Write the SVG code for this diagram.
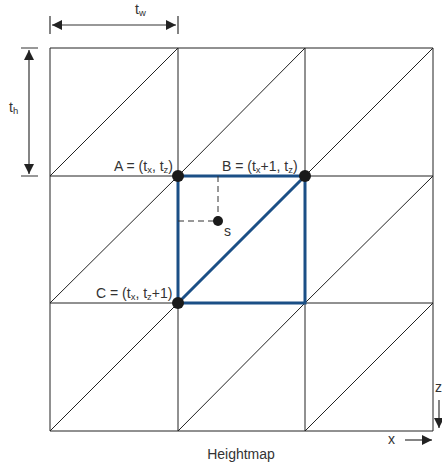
<svg xmlns="http://www.w3.org/2000/svg" width="442" height="466" viewBox="0 0 442 466">
<defs>
<marker id="ah" viewBox="0 0 10 10" refX="10" refY="5" markerWidth="10" markerHeight="10" markerUnits="userSpaceOnUse" orient="auto-start-reverse"><path d="M0,0 L10,5 L0,10 z" fill="#222"/></marker>
<style>
.g{stroke:#222;stroke-width:1;fill:none}
.b{stroke:#1b4f86;stroke-width:3;fill:none}
.t{font-family:"Liberation Sans",Arial,sans-serif;font-size:14px;fill:#333}
.s{font-size:9.5px}
.d{stroke:#333;stroke-width:1;stroke-dasharray:6,4;fill:none}
.dim{stroke:#333;stroke-width:1.2;fill:none}
</style>
</defs>
<rect width="442" height="466" fill="#fff"/>
<g id="grid">
<path class="g" d="M50,48H433M50,176H433M50,303H433M50,431H433M50,48V431M178,48V431M305,48V431M433,48V431"/>
<path class="g" d="M50,176L178,48M178,176L305,48M305,176L433,48M50,303L178,176M305,303L433,176M50,431L178,303M178,431L305,303M305,431L433,303"/>
</g>
<g id="cell">
<path class="b" d="M178,176H305V303H178ZM178,303L305,176"/>
</g>
<g id="connectors">
<path class="d" d="M218,176V221M178,221H218"/>
<path class="dim" d="M50,16V34M178,16V34M21,48H38M21,176H38"/>
<path class="dim" d="M52,25H176" marker-start="url(#ah)" marker-end="url(#ah)"/>
<path class="dim" d="M29,50V174" marker-start="url(#ah)" marker-end="url(#ah)"/>
<path class="dim" d="M405,440H432" marker-end="url(#ah)"/>
<path class="dim" d="M439,400V428" marker-end="url(#ah)"/>
</g>
<g id="A"><circle cx="178" cy="176" r="6" fill="#1a1a1a"/><text class="t" x="173" y="171" text-anchor="end">A = (t<tspan class="s" dy="2">x</tspan><tspan dy="-2">, t</tspan><tspan class="s" dy="2">z</tspan><tspan dy="-2">)</tspan></text></g>
<g id="B"><circle cx="305" cy="176" r="6" fill="#1a1a1a"/><text class="t" x="222" y="171">B = (t<tspan class="s" dy="2">x</tspan><tspan dy="-2">+1, t</tspan><tspan class="s" dy="2">z</tspan><tspan dy="-2">)</tspan></text></g>
<g id="C"><circle cx="178" cy="303" r="6" fill="#1a1a1a"/><text class="t" x="96" y="298">C = (t<tspan class="s" dy="2">x</tspan><tspan dy="-2">, t</tspan><tspan class="s" dy="2">z</tspan><tspan dy="-2">+1)</tspan></text></g>
<g id="S"><circle cx="218" cy="221" r="5" fill="#1a1a1a"/><text class="t" x="224" y="236">s</text></g>
<g id="labels">
<text class="t" x="135" y="14">t<tspan class="s" dy="2">w</tspan></text>
<text class="t" x="9" y="112">t<tspan class="s" dy="2">h</tspan></text>
<text class="t" x="388" y="444">x</text>
<text class="t" x="435" y="392">z</text>
<text class="t" x="241" y="459" text-anchor="middle">Heightmap</text>
</g>
</svg>
